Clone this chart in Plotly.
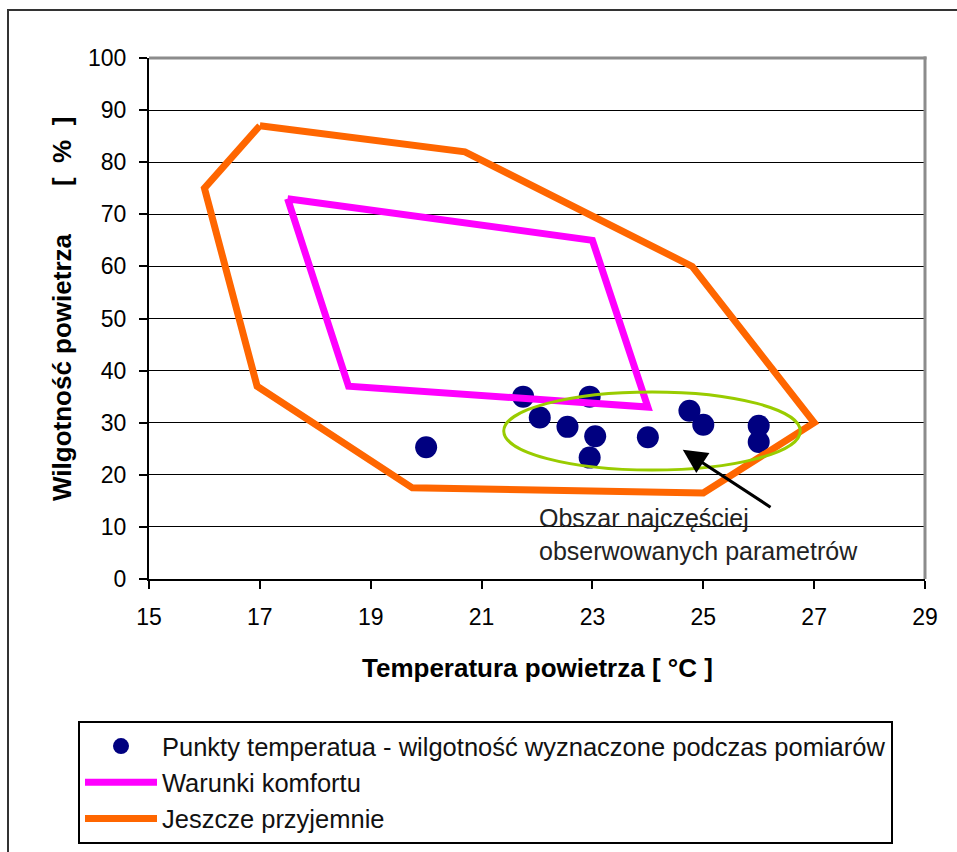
import plotly.graph_objects as go

# ---- data ----
pts_temp = [20.0, 21.75, 22.05, 22.55, 22.95, 23.05, 22.95, 24.0, 24.75, 25.0, 26.0, 26.0]
pts_hum = [25.3, 35.0, 31.0, 29.2, 35.0, 27.4, 23.3, 27.2, 32.3, 29.6, 29.4, 26.3]

komfort_temp = [17.5, 23.0, 24.0, 18.6, 17.5]
komfort_hum = [73, 65, 33, 37, 73]

przyjemnie_temp = [17.0, 20.7, 24.8, 27.0, 25.0, 19.75, 16.95, 16.0, 17.0]
przyjemnie_hum = [87, 82, 60, 30, 16.5, 17.5, 37, 75, 87]

x_ticks = [15, 17, 19, 21, 23, 25, 27, 29]
y_ticks = [0, 10, 20, 30, 40, 50, 60, 70, 80, 90, 100]

# ellipse: highlighted region (temperature / humidity bounds)
ell_temp = [21.4, 26.75]
ell_hum = [20.9, 35.9]

# arrow: head and tail (temperature, humidity)
arrow_head = (24.63, 24.8)
arrow_tail = (26.24, 13.6)
note_pos = (22.0, 8.6)

FONT = "Liberation Sans, Arial, sans-serif"

fig = go.Figure()
fig.add_trace(go.Scatter(
    x=pts_temp, y=pts_hum, mode="markers",
    name="Punkty temperatua - wilgotność wyznaczone podczas pomiarów",
    marker=dict(color="#000080", size=22, line=dict(width=0)),
    legendgroup="a",
))
fig.add_trace(go.Scatter(
    x=komfort_temp, y=komfort_hum, mode="lines",
    name="Warunki komfortu",
    line=dict(color="#FF00FF", width=7),
    legendgroup="b",
))
fig.add_trace(go.Scatter(
    x=przyjemnie_temp, y=przyjemnie_hum, mode="lines",
    name="Jeszcze przyjemnie",
    line=dict(color="#FF6600", width=7),
    legendgroup="c",
))

W, H = 957, 852
L, R, T, B = 149, 925, 58, 579
pw, ph = R - L, B - T

def px(xp):
    return (xp - L) / pw

def py(yp):
    return (B - yp) / ph

shapes = [
    # highlighted ellipse
    dict(type="circle", xref="x", yref="y", x0=ell_temp[0], x1=ell_temp[1],
         y0=ell_hum[0], y1=ell_hum[1], line=dict(color="#99CC00", width=3), layer="above"),
    # plot area gray top / right border
    dict(type="line", xref="paper", yref="paper", x0=0, x1=1.002, y0=1, y1=1,
         line=dict(color="#8c8c8c", width=3)),
    dict(type="line", xref="paper", yref="paper", x0=1, x1=1, y0=0, y1=1.003,
         line=dict(color="#8c8c8c", width=3)),
    # outer chart border
    dict(type="rect", xref="paper", yref="paper", x0=px(8), x1=px(1100), y0=py(1000), y1=py(10),
         line=dict(color="#333333", width=2), fillcolor="rgba(0,0,0,0)", layer="below"),
]

NB = "\u00a0"
annotations = [
    dict(x=arrow_head[0], y=arrow_head[1], ax=arrow_tail[0], ay=arrow_tail[1],
         xref="x", yref="y", axref="x", ayref="y", text="", showarrow=True,
         arrowhead=2, arrowsize=1.6, arrowwidth=3, arrowcolor="#000000"),
    dict(x=note_pos[0], y=note_pos[1], xref="x", yref="y", xanchor="left", yanchor="middle",
         text="Obszar najczęściej<br>obserwowanych parametrów", showarrow=False, align="left",
         font=dict(family=FONT, size=25, color="#222222")),
    dict(x=0.5, y=py(668), xref="paper", yref="paper", xanchor="center", yanchor="middle",
         text="<b>Temperatura powietrza [ °C ]</b>", showarrow=False,
         font=dict(family=FONT, size=26, color="#000000")),
    dict(x=px(62), y=py(367), xref="paper", yref="paper", xanchor="center", yanchor="middle",
         text="<b>Wilgotność powietrza</b>", showarrow=False, textangle=-90,
         font=dict(family=FONT, size=26, color="#000000")),
    dict(x=px(62), y=py(152), xref="paper", yref="paper", xanchor="center", yanchor="middle",
         text="<b>[" + NB + NB + "%" + NB + NB + "]</b>", showarrow=False, textangle=-90,
         font=dict(family=FONT, size=26, color="#000000")),
]

fig.update_layout(
    width=W, height=H,
    margin=dict(l=L, r=W - R, t=T, b=H - B, pad=0, autoexpand=False),
    paper_bgcolor="white", plot_bgcolor="white",
    font=dict(family=FONT, size=23, color="#000000"),
    showlegend=True,
    legend=dict(
        xref="container", yref="container",
        x=78 / W, y=1 - 721 / H, xanchor="left", yanchor="top",
        bgcolor="white", bordercolor="#000000", borderwidth=2,
        font=dict(family=FONT, size=25.5, color="#111111"),
        itemwidth=72, tracegroupgap=0, traceorder="grouped",
    ),
    xaxis=dict(
        range=[15, 29], tickvals=x_ticks, ticktext=[str(v) for v in x_ticks],
        showgrid=False, zeroline=False, showline=True, linecolor="#000000", linewidth=2,
        ticks="outside", ticklen=8, tickwidth=2, tickcolor="#000000",
        tickfont=dict(family=FONT, size=23), ticklabelstandoff=8,
    ),
    yaxis=dict(
        range=[0, 100], tickvals=y_ticks, ticktext=[str(v) for v in y_ticks],
        showgrid=True, gridcolor="#000000", gridwidth=1, zeroline=False,
        showline=True, linecolor="#000000", linewidth=2,
        ticks="outside", ticklen=8, tickwidth=2, tickcolor="#000000",
        tickfont=dict(family=FONT, size=23), ticklabelstandoff=8,
    ),
    shapes=shapes,
    annotations=annotations,
)

fig.write_html("out.html")
